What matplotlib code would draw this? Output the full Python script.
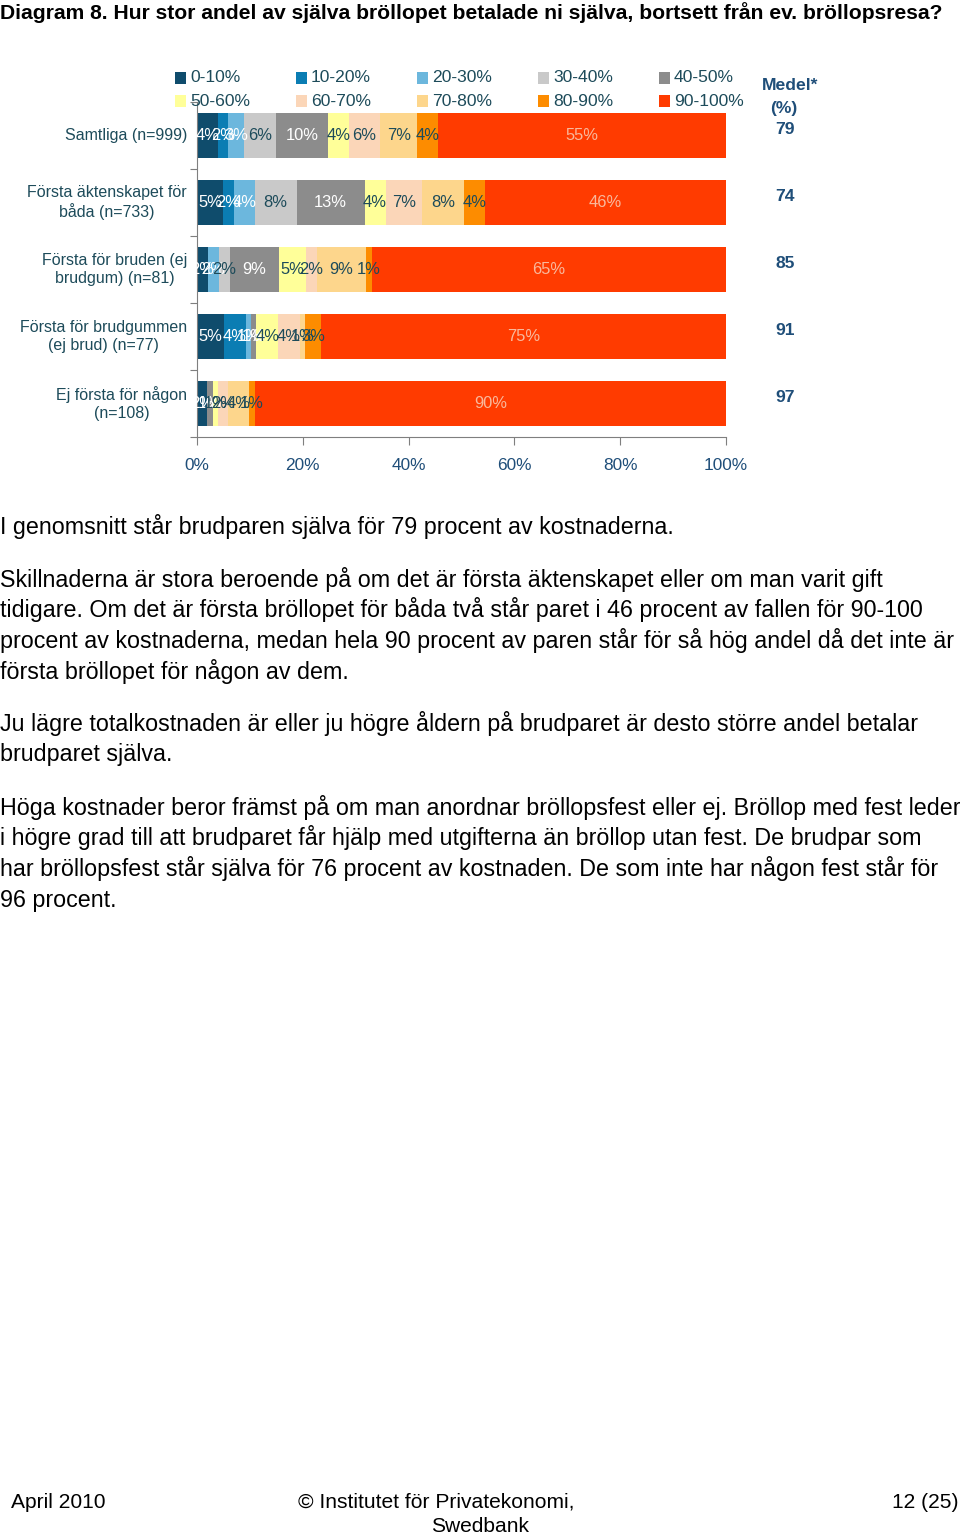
import matplotlib
matplotlib.use("Agg")
import matplotlib.pyplot as plt
from matplotlib.patches import Rectangle
import numpy as np

plt.rcParams['font.family'] = ['Liberation Sans', 'DejaVu Sans']

W, H = 960, 1534

title = "Diagram 8. Hur stor andel av själva bröllopet betalade ni själva, bortsett från ev. bröllopsresa?"

categories = [
    "Samtliga (n=999)",
    "Första äktenskapet för\nbåda (n=733)",
    "Första för bruden (ej\nbrudgum) (n=81)",
    "Första för brudgummen\n(ej brud) (n=77)",
    "Ej första för någon\n(n=108)",
]
series = ["0-10%", "10-20%", "20-30%", "30-40%", "40-50%",
          "50-60%", "60-70%", "70-80%", "80-90%", "90-100%"]
values = [
    [4, 2, 3, 6, 10, 4, 6, 7, 4, 55],
    [5, 2, 4, 8, 13, 4, 7, 8, 4, 46],
    [2, 0, 2, 2, 9, 5, 2, 9, 1, 65],
    [5, 4, 1, 0, 1, 4, 4, 1, 3, 75],
    [2, 0, 0, 0, 1, 1, 2, 4, 1, 90],
]
medel = [79, 74, 85, 91, 97]
xticks = [0, 20, 40, 60, 80, 100]

colors = ["#0f4c6c", "#0b7db3", "#6cb7dd", "#c9c9c9", "#8c8c8c",
          "#ffff99", "#fbd6b8", "#fdd68c", "#fd8c00", "#ff3b00"]
dark = "#1d4b5a"
label_colors = ["white", "white", "white", dark, "white",
                dark, dark, dark, dark, "#f9b89c"]
navy = "#1f4e79"

paragraphs = [
    ["I genomsnitt står brudparen själva för 79 procent av kostnaderna."],
    ["Skillnaderna är stora beroende på om det är första äktenskapet eller om man varit gift",
     "tidigare. Om det är första bröllopet för båda två står paret i 46 procent av fallen för 90-100",
     "procent av kostnaderna, medan hela 90 procent av paren står för så hög andel då det inte är",
     "första bröllopet för någon av dem."],
    ["Ju lägre totalkostnaden är eller ju högre åldern på brudparet är desto större andel betalar",
     "brudparet själva."],
    ["Höga kostnader beror främst på om man anordnar bröllopsfest eller ej. Bröllop med fest leder",
     "i högre grad till att brudparet får hjälp med utgifterna än bröllop utan fest. De brudpar som",
     "har bröllopsfest står själva för 76 procent av kostnaden. De som inte har någon fest står för",
     "96 procent."],
]


def fx(x):
    return x / W


def fy(y):
    return 1 - y / H


def pt(px):
    return px * 72 / 100


fig = plt.figure(figsize=(W / 100, H / 100), dpi=100)
fig.patch.set_facecolor("white")

fig.text(fx(0), fy(13), title, fontsize=pt(21.2), fontweight="bold",
         ha="left", va="center", color="black")

ax_top, ax_bot = 102, 437
ax = fig.add_axes([fx(197), fy(ax_bot), fx(726) - fx(197), (ax_bot - ax_top) / H])

vals = np.array(values, dtype=float)
norm = vals / vals.sum(axis=1, keepdims=True) * 100
ypos = np.arange(len(categories))
left = np.zeros(len(categories))
for j, s in enumerate(series):
    ax.barh(ypos, norm[:, j], left=left, height=0.67, color=colors[j],
            edgecolor="none", zorder=2)
    for i in range(len(categories)):
        if values[i][j] > 0:
            ax.text(left[i] + norm[i, j] / 2, ypos[i], f"{values[i][j]}%",
                    ha="center", va="center", fontsize=pt(16.5),
                    color=label_colors[j], zorder=3)
    left += norm[:, j]

ax.set_xlim(0, 100)
ax.set_ylim(len(categories) - 0.5, -0.5)
ax.set_xticks(xticks)
ax.set_xticklabels([f"{t}%" for t in xticks], fontsize=pt(17.2), color=navy)
ax.set_yticks(np.arange(len(categories) + 1) - 0.5)
ax.set_yticklabels([])
ax.tick_params(axis="x", direction="out", length=6, color="#7f7f7f", pad=9)
ax.tick_params(axis="y", direction="out", length=5, color="#7f7f7f")
for sp in ["top", "right"]:
    ax.spines[sp].set_visible(False)
ax.spines["left"].set_color("#7f7f7f")
ax.spines["bottom"].set_color("#7f7f7f")
ax.set_facecolor("none")

# category labels
for i, c in enumerate(categories):
    yc = ax_top + (i + 0.5) * (ax_bot - ax_top) / len(categories)
    fig.text(fx(187), fy(yc), c, ha="right", va="center", multialignment="center",
             fontsize=pt(16), color=dark, linespacing=1.2)

# legend (row-major, 2 rows x 5 cols)
for k, s in enumerate(series):
    col, row = k % 5, k // 5
    x0 = 175 + col * 121
    y0 = 78 + row * 23
    fig.patches.append(Rectangle((fx(x0), fy(y0 + 5.5)), 11 / W, 11 / H,
                                 transform=fig.transFigure, facecolor=colors[k],
                                 edgecolor="none"))
    fig.text(fx(x0 + 15), fy(y0), s, ha="left", va="center",
             fontsize=pt(17.5), color=dark)

# Medel column
fig.text(fx(790), fy(86), "Medel*", ha="center", va="center", fontsize=pt(17.5),
         fontweight="bold", color=navy)
fig.text(fx(784), fy(108), "(%)", ha="center", va="center", fontsize=pt(17.5),
         fontweight="bold", color=navy)
for i, m in enumerate(medel):
    yc = ax_top + (i + 0.5) * (ax_bot - ax_top) / len(categories)
    if i == 0:
        yc = 129
    else:
        yc = yc - 6
    fig.text(fx(785), fy(yc), str(m), ha="center", va="center", fontsize=pt(17.5),
             fontweight="bold", color=navy)

# body text
y = 527
for p in paragraphs:
    for line in p:
        fig.text(fx(0), fy(y), line, ha="left", va="center", fontsize=pt(23.2),
                 color="black")
        y += 31
    y += 21

# footer
fig.text(fx(11), fy(1502), "April 2010", ha="left", va="center", fontsize=pt(21))
fig.text(fx(436), fy(1502), "© Institutet för Privatekonomi,", ha="center",
         va="center", fontsize=pt(21))
fig.text(fx(480), fy(1526), "Swedbank", ha="center", va="center", fontsize=pt(21))
fig.text(fx(958), fy(1502), "12 (25)", ha="right", va="center", fontsize=pt(21))

fig.savefig("out.png", dpi=100)
